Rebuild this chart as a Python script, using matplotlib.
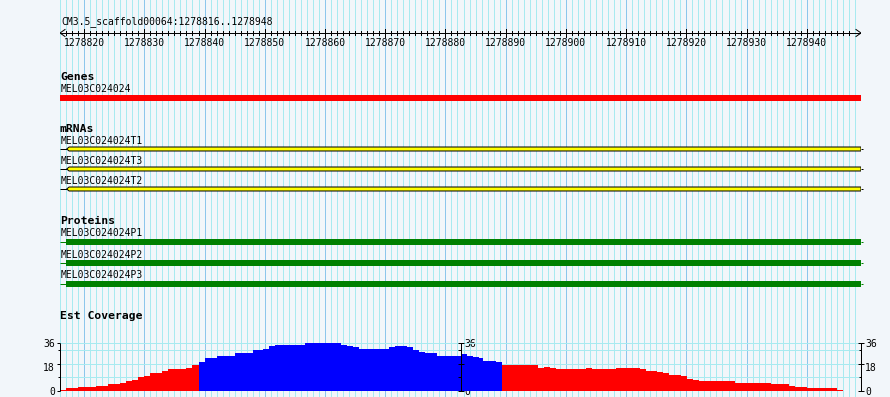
import matplotlib
matplotlib.use("Agg")
import matplotlib.pyplot as plt
from matplotlib.patches import Polygon, Rectangle

# ---------------- data ----------------
region_title = "CM3.5_scaffold00064:1278816..1278948"
view_start, view_end = 1278816, 1278949
ruler_labels = [1278820, 1278830, 1278840, 1278850, 1278860, 1278870,
                1278880, 1278890, 1278900, 1278910, 1278920, 1278930, 1278940]

gene_names = ["MEL03C024024"]
gene_start = [1278816]
gene_end = [1278949]

mrna_names = ["MEL03C024024T1", "MEL03C024024T3", "MEL03C024024T2"]
mrna_line_start = [1278816, 1278816, 1278816]
mrna_box_start = [1278817.1, 1278817.1, 1278817.1]
mrna_end = [1278949, 1278949, 1278949]

protein_names = ["MEL03C024024P1", "MEL03C024024P2", "MEL03C024024P3"]
protein_line_start = [1278816, 1278816, 1278816]
protein_box_start = [1278817.0, 1278817.0, 1278817.0]
protein_end = [1278949, 1278949, 1278949]

cov_start = [1278816.0, 1278817.0, 1278819.0, 1278822.0, 1278824.0, 1278826.0,
             1278827.0, 1278828.0, 1278829.0, 1278830.0, 1278831.0, 1278833.0,
             1278834.0, 1278837.0, 1278838.0, 1278839.0, 1278840.0, 1278842.0,
             1278845.0, 1278848.0, 1278849.7, 1278850.7, 1278851.7, 1278856.7,
             1278862.7, 1278863.7, 1278864.7, 1278865.7, 1278870.6, 1278871.6,
             1278873.6, 1278874.6, 1278875.6, 1278876.6, 1278878.6, 1278882.6,
             1278883.6, 1278884.6, 1278885.6, 1278886.2, 1278888.4, 1278889.4,
             1278895.4, 1278896.4, 1278897.4, 1278898.4, 1278903.3, 1278904.3,
             1278908.3, 1278912.3, 1278913.3, 1278915.1, 1278916.1, 1278917.1,
             1278919.1, 1278920.1, 1278921.1, 1278922.1, 1278928.1, 1278934.1,
             1278937.1, 1278938.1, 1278940.0, 1278945.0]
cov_end_last = 1278946.0
cov_value = [1, 2.5, 3.3, 4, 5.25, 6, 7.5, 8.5, 10.5, 11.5, 13.5, 15, 16.5, 17.25,
             19.5, 21.75, 24.75, 26.25, 28.5, 30.75, 31.5, 33.75, 34.5, 36, 34.5,
             33.75, 33, 31.5, 33, 33.75, 33, 30.75, 29.25, 28.5, 26.25, 27.75,
             26.25, 25.5, 24.75, 22.5, 21.75, 19.5, 17.25, 18, 17.25, 16.5, 17.25,
             16.5, 17.25, 16.5, 15, 14.25, 13.5, 12, 11.25, 9.25, 8.25, 7.5, 6,
             5.25, 3.75, 3, 2.25, 0.75]
cov_pivot = 20
cov_max = 36
cov_grid = [0, 10.25, 20, 30.75, 36]
cov_tick_major = [36, 20, 0]
cov_tick_labels = ["36", "18", "0"]
cov_tick_minor = [30.75, 10.25]

# ---------------- style ----------------
W, H, DPI = 890, 397, 100
BG = "#F2F6FA"
GRID_MINOR = "#A8EAF0"
GRID_MAJOR = "#8CC6EC"
MONO = "DejaVu Sans Mono"
FS = 7.0
FSB = 8.2
PX = 0.72  # 1 pixel in points

fig = plt.figure(figsize=(W / DPI, H / DPI), dpi=DPI, facecolor=BG)
ax = fig.add_axes([60 / W, 0, 801 / W, 1])
ax.set_xlim(view_start, view_end)
ax.set_ylim(H, 0)
ax.axis("off")
ppb = 801 / (view_end - view_start)   # pixels per base
dpx = 1 / ppb                         # one pixel in bases

# vertical grid
for p in range(view_start, view_end + 1):
    col = GRID_MAJOR if p % 10 == 0 else GRID_MINOR
    ax.vlines(p, 0, H, color=col, lw=PX, antialiased=False, zorder=0)

# title and ruler
ax.text(view_start + dpx, 24.5, region_title, fontsize=FS, family=MONO,
        ha="left", va="baseline")
ry = 33
ax.hlines(ry, view_start, view_end, color="black", lw=PX, zorder=3)
for p in range(view_start + 1, view_end - 1):
    h = 4 if p % 10 == 0 else 2.3
    ax.vlines(p, ry - h, ry + h, color="black", lw=PX, zorder=3, antialiased=False)
ax.plot([view_start + 5 * dpx, view_start, view_start + 5 * dpx],
        [ry - 3.5, ry, ry + 3.5], color="black", lw=PX, zorder=3)
ax.plot([view_end - 5 * dpx, view_end, view_end - 5 * dpx],
        [ry - 3.5, ry, ry + 3.5], color="black", lw=PX, zorder=3)
for v in ruler_labels:
    ax.text(v, 46.5, str(v), fontsize=FS, family=MONO, ha="center", va="baseline")

def track_title(y, s):
    ax.text(view_start, y, s, fontsize=FSB, family=MONO, weight="bold",
            ha="left", va="baseline")

def label(y, s):
    ax.text(view_start + dpx * 0.5, y, s, fontsize=FS, family=MONO,
            ha="left", va="baseline")

# Genes
track_title(80, "Genes")
for i, n in enumerate(gene_names):
    label(92.5, n)
    ax.add_patch(Rectangle((gene_start[i], 95), gene_end[i] - gene_start[i], 6,
                           facecolor="#FF0000", edgecolor="none", zorder=2))

# mRNAs
track_title(131.5, "mRNAs")
for i, n in enumerate(mrna_names):
    top = 147 + 20 * i
    label(top - 3, n)
    yc = top + 2
    ax.hlines(yc, mrna_line_start[i], mrna_box_start[i], color="black", lw=PX, zorder=2)
    ax.hlines(yc, mrna_end[i], mrna_end[i] + 2 * dpx, color="black", lw=PX,
              zorder=2, clip_on=False)
    xs = mrna_box_start[i]
    ax.add_patch(Polygon([(xs, yc), (xs + 2.5 * dpx, top), (mrna_end[i], top),
                          (mrna_end[i], top + 4), (xs + 2.5 * dpx, top + 4)],
                         closed=True, facecolor="#FFFF00", edgecolor="black",
                         lw=PX, zorder=2))

# Proteins
track_title(224, "Proteins")
for i, n in enumerate(protein_names):
    top = 239 + 21 * i
    label(top - 2.5, n)
    yc = top + 3
    ax.hlines(yc, protein_line_start[i], protein_box_start[i], color="#008000",
              lw=PX, zorder=2)
    ax.hlines(yc, protein_end[i], protein_end[i] + 1.5 * dpx, color="#008000",
              lw=PX, zorder=2, clip_on=False)
    ax.add_patch(Rectangle((protein_box_start[i], top),
                           protein_end[i] - protein_box_start[i], 6,
                           facecolor="#008000", edgecolor="none", zorder=2))

# Est Coverage
track_title(319, "Est Coverage")
y0px, y1px = 391, 343
cax = fig.add_axes([60 / W, (H - y0px) / H, 801 / W, (y0px - y1px) / H])
cax.set_xlim(view_start, view_end)
cax.set_ylim(0, cov_max)
cax.axis("off")
cax.patch.set_alpha(0)
cax.hlines(cov_grid, view_start, view_end, color=GRID_MINOR, lw=PX,
           antialiased=False, zorder=0)
widths = [b - a for a, b in zip(cov_start, cov_start[1:] + [cov_end_last])]
colors = ["#0000FF" if v > cov_pivot else "#FF0000" for v in cov_value]
cax.bar(cov_start, cov_value, width=widths, align="edge", color=colors,
        linewidth=0, antialiased=False, zorder=2)

mid = (view_start + view_end) / 2
for xa in (view_start, mid, view_end):
    cax.vlines(xa, 0, cov_max, color="black", lw=PX, zorder=4, clip_on=False)
    for t in cov_tick_major:
        cax.hlines(t, xa - 3 * dpx, xa + 3 * dpx if xa != view_start else xa,
                   color="black", lw=PX, zorder=4, clip_on=False)
    for t in cov_tick_minor:
        cax.hlines(t, xa - 2.5 * dpx, xa, color="black", lw=PX, zorder=4,
                   clip_on=False)

ybase = {"36": 347, "18": 371, "0": 395}
for lab in cov_tick_labels:
    ax.text(view_start - 5 * dpx, ybase[lab], lab, fontsize=FS, family=MONO,
            ha="right", va="baseline")
    ax.text(mid + 3.5 * dpx, ybase[lab], lab, fontsize=FS, family=MONO,
            ha="left", va="baseline")
    ax.text(view_end + 4 * dpx, ybase[lab], lab, fontsize=FS, family=MONO,
            ha="left", va="baseline")

fig.savefig("out.png", dpi=DPI, facecolor=BG)
